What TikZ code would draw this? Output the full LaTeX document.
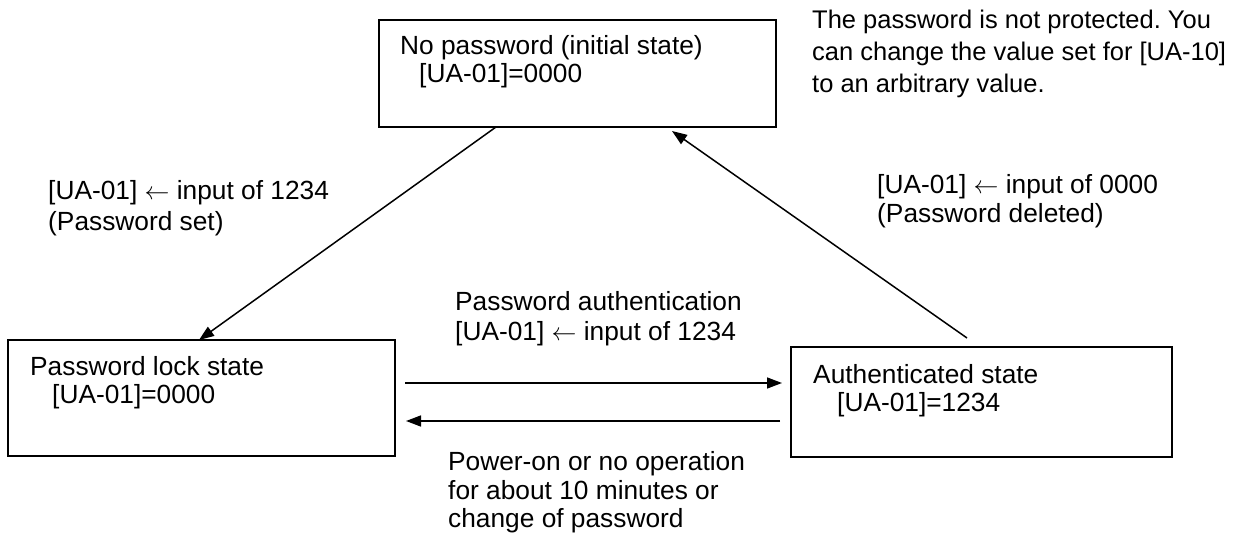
\documentclass[tikz,border=0pt]{standalone}
\usepackage{fontspec}
\setmainfont{Liberation Sans}
\usetikzlibrary{arrows.meta}
\frenchspacing
\begin{document}
\begin{tikzpicture}[x=1pt,y=-1pt,
  box/.style={draw,line width=1.5pt,rectangle,inner sep=0pt,outer sep=0pt,anchor=north west},
  txt/.style={anchor=base west,inner sep=0pt,font=\fontsize{26.3}{30}\selectfont},
  note/.style={anchor=base west,inner sep=0pt,font=\fontsize{25.5}{30}\selectfont},
  arr/.style={line width=1.5pt,-{Triangle[length=15pt,width=11pt]}}]
\useasboundingbox (0,0) rectangle (1253,534);
% boxes
\node[box,minimum width=397pt,minimum height=107pt] (top) at (379,20) {};
\node[box,minimum width=387pt,minimum height=116pt] (lock) at (8,340) {};
\node[box,minimum width=381pt,minimum height=110pt] (auth) at (791,347) {};
% box texts
\node[txt] (t1) at (400,55) {No password (initial state)};
\node[txt] (t2) at (419,83) {[UA-01]=0000};
\node[txt] (l1) at (30,376) {Password lock state};
\node[txt] (l2) at (52,404) {[UA-01]=0000};
\node[txt] (a1) at (813,384) {Authenticated state};
\node[txt] (a2) at (837,412) {[UA-01]=1234};
% note
\node[note] (n1) at (812,29) {The password is not protected. You};
\node[note] (n2) at (812,61) {can change the value set for [UA-10]};
\node[note] (n3) at (812,93) {to an arbitrary value.};
% labels
\node[txt] (s1) at (48,200) {[UA-01] $\leftarrow$ input of 1234};
\node[txt] (s2) at (48,231) {(Password set)};
\node[txt] (d1) at (877,194) {[UA-01] $\leftarrow$ input of 0000};
\node[txt] (d2) at (877,223) {(Password deleted)};
\node[txt] (p1) at (455,311) {Password authentication};
\node[txt] (p2) at (455,341) {[UA-01] $\leftarrow$ input of 1234};
\node[txt] (o1) at (448,470) {Power-on or no operation};
\node[txt] (o2) at (448,499) {for about 10 minutes or};
\node[txt] (o3) at (448,527) {change of password};
% connectors
\coordinate (c1) at (top.south -| 496,0);
\coordinate (c2) at (lock.north -| 199,0);
\draw[arr] (c1) -- (c2);
\coordinate (c3) at (967,338);
\coordinate (c4) at (672,131);
\draw[arr] (c3) -- (c4);
\coordinate (c5) at (405,383);
\coordinate (c6) at (782,383);
\draw[arr] (c5) -- (c6);
\coordinate (c7) at (780,421);
\coordinate (c8) at (406,421);
\draw[arr] (c7) -- (c8);
\end{tikzpicture}
\end{document}
